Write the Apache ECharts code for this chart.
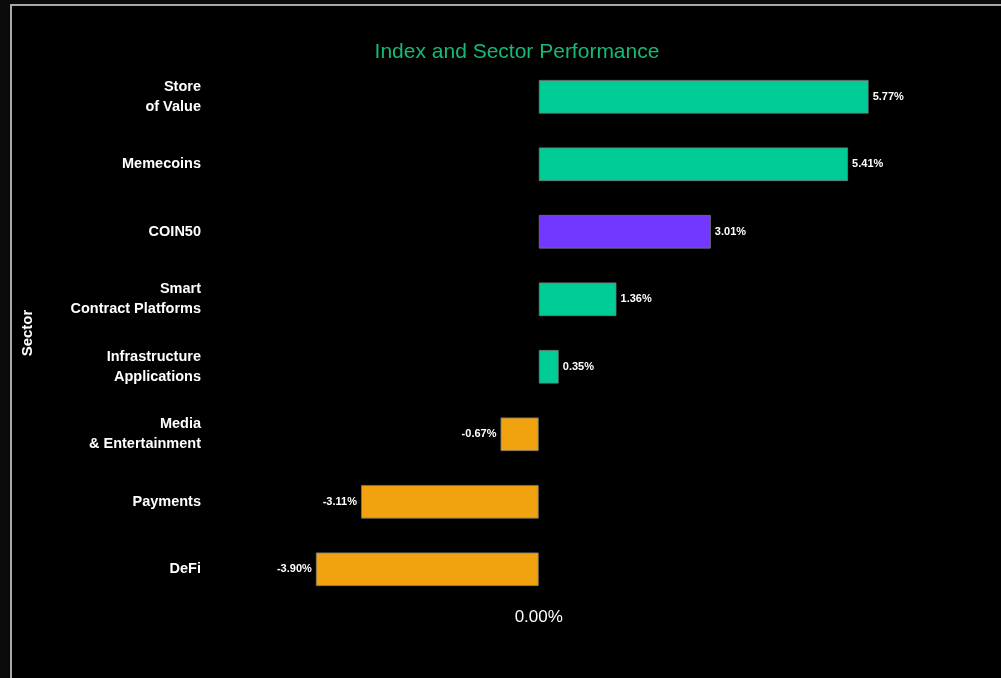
<!DOCTYPE html>
<html>
<head>
<meta charset="utf-8">
<script src="https://cdn.jsdelivr.net/npm/echarts@6/dist/echarts.min.js"></script>
<style>
  html, body { margin: 0; padding: 0; background: #0a0a0a; }
  #frame { position: absolute; left: 10px; top: 4px; width: 991px; height: 674px; border-left: 2px solid #a8a8a8; border-top: 2px solid #a8a8a8; background: #000; box-sizing: border-box; }
  #chart { position: absolute; left: 0; top: 0; width: 1001px; height: 678px; }
</style>
</head>
<body>
<div id="frame"></div>
<div id="chart"></div>
<script>
const categories = ['Store\nof Value', 'Memecoins', 'COIN50', 'Smart\nContract Platforms', 'Infrastructure\nApplications', 'Media\n& Entertainment', 'Payments', 'DeFi'];
const values = [5.77, 5.41, 3.01, 1.36, 0.35, -0.67, -3.11, -3.90];
const barColors = ['#00cc96', '#00cc96', '#7338ff', '#00cc96', '#00cc96', '#f0a30f', '#f0a30f', '#f0a30f'];
const xTickValues = [0];

const chart = echarts.init(document.getElementById('chart'));
const font = '"Liberation Sans", Arial, sans-serif';
chart.setOption({
  backgroundColor: 'transparent',
  animation: false,
  title: {
    text: 'Index and Sector Performance',
    left: 512, top: 37, textAlign: 'center',
    textStyle: { color: '#17b978', fontSize: 21, fontWeight: 500, fontFamily: font }
  },
  grid: { left: 210, right: 62, top: 63, bottom: 75 },
  xAxis: {
    type: 'value', min: -5.75, max: 7,
    axisLine: { show: false }, axisTick: { show: false }, splitLine: { show: false },
    axisLabel: {
      customValues: xTickValues,
      color: '#ffffff', fontSize: 17, fontFamily: font, margin: 6,
      formatter: v => v.toFixed(2) + '%'
    }
  },
  yAxis: {
    type: 'category', data: categories, inverse: true,
    name: 'Sector', nameLocation: 'middle', nameRotate: 90, nameGap: 175,
    nameTextStyle: { color: '#ffffff', fontSize: 15, fontWeight: 'bold', fontFamily: font },
    axisLine: { show: false }, axisTick: { show: false }, splitLine: { show: false },
    axisLabel: { color: '#ffffff', fontSize: 14.5, fontWeight: 'bold', fontFamily: font, margin: 9, lineHeight: 20 }
  },
  series: [{
    type: 'bar',
    barWidth: '50%',
    data: values.map((v, i) => ({
      value: v,
      itemStyle: { color: barColors[i] },
      label: { position: v >= 0 ? 'right' : 'left' }
    })),
    itemStyle: { borderColor: 'rgba(120,120,120,0.8)', borderWidth: 1 },
    label: {
      show: true, distance: 4, color: '#ffffff', fontSize: 11, fontWeight: 'bold', fontFamily: font,
      formatter: p => p.value.toFixed(2) + '%'
    }
  }]
});
</script>
</body>
</html>
